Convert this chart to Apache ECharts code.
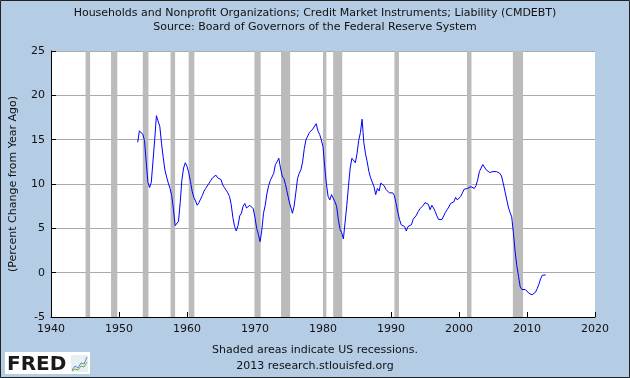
<!DOCTYPE html>
<html>
<head>
<meta charset="utf-8">
<script src="https://cdn.jsdelivr.net/npm/echarts@6/dist/echarts.min.js"></script>
<style>
html,body{margin:0;padding:0;background:#B4CCE4;}
#chart{width:630px;height:378px;}
</style>
</head>
<body>
<div id="chart"></div>
<script>
// Quarterly percent change from year ago, first quarter 1952 Q4
const startYear = 1952.75;
const values1950s = [14.7, 16.0, 16.1, 15.6, 14.9, 12.5, 10.2, 9.6, 10.2, 12.6, 15.0, 17.7, 17.6, 16.5, 14.6, 13.0, 11.6, 10.8, 10.1, 9.5, 8.7, 7.2, 5.3, 5.2, 5.8, 7.9, 10.5, 11.8];
const values1960s = [12.4, 12.0, 11.3, 10.3, 9.2, 8.5, 8.1, 7.6, 7.9, 8.3, 8.7, 9.2, 9.5, 9.6, 10.1, 10.4, 10.7, 10.8, 11.0, 10.7, 10.5, 10.5, 9.9, 9.6, 9.4, 9.0, 8.6, 7.7, 6.2, 5.2, 4.7, 5.3, 6.4, 6.7, 7.5, 7.8, 7.3, 7.5, 7.6, 7.5];
const values1970s = [7.2, 6.2, 5.0, 4.3, 3.5, 4.8, 6.7, 7.6, 8.9, 9.8, 10.4, 10.6, 11.2, 12.2, 12.5, 12.9, 11.8, 10.9, 10.6, 9.9, 9.0, 8.1, 7.4, 6.7, 7.5, 9.0, 10.6, 11.2, 11.6, 12.5, 14.0, 15.0, 15.4, 15.8, 16.0, 16.2, 16.3, 16.8, 16.0, 15.6];
const values1980s = [15.0, 14.2, 12.0, 10.0, 8.6, 8.2, 8.8, 9.0, 8.0, 7.5, 6.0, 4.9, 4.5, 3.8, 5.7, 7.6, 9.8, 11.8, 12.9, 12.7, 12.4, 13.4, 14.9, 15.8, 17.3, 14.7, 13.4, 12.5, 11.4, 10.7, 10.8, 9.7, 8.8, 9.5, 9.2, 10.1, 10.3, 9.8, 9.4, 9.2];
const values1990s = [9.0, 9.1, 9.0, 8.7, 7.8, 6.8, 6.0, 5.4, 5.3, 5.2, 4.7, 5.2, 5.0, 5.4, 6.0, 6.1, 6.5, 6.9, 7.2, 7.4, 7.6, 7.9, 7.9, 7.7, 7.1, 7.6, 7.3, 6.9, 6.4, 6.0, 5.9, 6.0, 6.4, 6.8, 7.1, 7.4, 7.8, 7.9, 8.0, 8.5];
const values2000s = [8.2, 8.4, 8.6, 9.0, 9.4, 9.4, 9.5, 9.7, 9.7, 9.9, 9.5, 9.8, 10.5, 11.4, 11.8, 12.2, 12.1, 11.6, 11.4, 11.3, 11.3, 11.4, 11.4, 11.4, 11.2, 11.2, 10.9, 10.1, 9.2, 8.3, 7.4, 6.8, 6.3, 4.5, 2.4, 0.8, -0.4, -1.6, -1.9, -2.1];
const values2010s = [-1.9, -2.1, -2.3, -2.4, -2.5, -2.4, -2.2, -1.8, -1.3, -0.7, -0.3, -0.5, -0.25];
// Recessions (decimal years)
const recessionStarts = [1945.08, 1948.83, 1953.5, 1957.58, 1960.25, 1969.92, 1973.83, 1980.0, 1981.5, 1990.5, 2001.17, 2007.92];
const recessionEnds   = [1945.75, 1949.75, 1954.33, 1958.25, 1961.08, 1970.83, 1975.17, 1980.5, 1982.83, 1991.17, 2001.83, 2009.42];
const xTicks = [1940, 1950, 1960, 1970, 1980, 1990, 2000, 2010, 2020];
const yTicks = [-5, 0, 5, 10, 15, 20, 25];

const titleLine1 = 'Households and Nonprofit Organizations; Credit Market Instruments; Liability (CMDEBT)';
const titleLine2 = 'Source: Board of Governors of the Federal Reserve System';
const yName = '(Percent Change from Year Ago)';
const note1 = 'Shaded areas indicate US recessions.';
const note2 = '2013 research.stlouisfed.org';

const allValues = [].concat(values1950s, values1960s, values1970s, values1980s, values1990s, values2000s, values2010s);
const lineData = allValues.map((v, i) => [startYear + i * 0.25, v]);
const areas = recessionStarts.map((s, i) => [{xAxis: s}, {xAxis: recessionEnds[i]}]);

const FONT = 'DejaVu Sans';
const chart = echarts.init(document.getElementById('chart'), null, {renderer: 'canvas'});
chart.setOption({
  animation: false,
  backgroundColor: '#B4CCE4',
  textStyle: {fontFamily: FONT},
  grid: {left: 47, right: 35, top: 51, bottom: 61, containLabel: false, show: true, backgroundColor: '#FFFFFF', borderWidth: 0},
  xAxis: {
    type: 'value', min: xTicks[0], max: xTicks[xTicks.length - 1], interval: 10,
    axisLine: {show: true, onZero: false, lineStyle: {color: '#000', width: 1}},
    axisTick: {show: true, inside: true, length: 5, lineStyle: {color: '#000'}},
    axisLabel: {color: '#111', fontSize: 11, fontFamily: FONT, margin: 7, formatter: v => String(v)},
    splitLine: {show: false}
  },
  yAxis: {
    type: 'value', min: yTicks[0], max: yTicks[yTicks.length - 1], interval: 5,
    name: yName, nameLocation: 'middle', nameGap: 32,
    nameTextStyle: {color: '#111', fontSize: 11, fontFamily: FONT},
    axisLine: {show: true, onZero: false, lineStyle: {color: '#000', width: 1}},
    axisTick: {show: true, inside: true, length: 5, lineStyle: {color: '#000'}},
    axisLabel: {color: '#111', fontSize: 11, fontFamily: FONT, margin: 6},
    splitLine: {show: true, lineStyle: {color: '#AAAAAA', width: 1}}
  },
  title: {
    text: titleLine1, subtext: titleLine2, left: 'center', top: 3, itemGap: 3,
    textStyle: {fontSize: 11, fontWeight: 'normal', color: '#111', fontFamily: FONT},
    subtextStyle: {fontSize: 11, color: '#111', fontFamily: FONT}
  },
  series: [
    {
      type: 'line', data: [], silent: true, z: 1,
      markArea: {silent: true, itemStyle: {color: '#BBBBBB', opacity: 1}, data: areas}
    },
    {
      type: 'line', data: lineData, showSymbol: false, z: 5,
      lineStyle: {color: '#0000FF', width: 1}, itemStyle: {color: '#0000FF'}
    }
  ],
  graphic: [
    {type: 'text', left: 'center', top: 345, style: {text: note1, fontSize: 11, fill: '#111', fontFamily: FONT}},
    {type: 'text', left: 'center', top: 361, style: {text: note2, fontSize: 11, fill: '#111', fontFamily: FONT}},
    {type: 'rect', shape: {x: 5, y: 352, width: 85, height: 22}, style: {fill: '#FFFFFF'}},
    {type: 'text', x: 7, y: 355, style: {text: 'FRED', fontSize: 20, fontWeight: 'bold', fill: '#1a1a1a', fontFamily: FONT}},
    {type: 'rect', shape: {x: 71, y: 355, width: 17, height: 17}, style: {fill: '#E8EEF2'}},
    {type: 'polyline', shape: {points: [[72, 370], [75, 366], [78, 368], [81, 363], [84, 364], [87, 357]]}, style: {stroke: '#5588CC', lineWidth: 1, fill: null}},
    {type: 'polyline', shape: {points: [[72, 371], [75, 369], [78, 370], [81, 366], [84, 367], [87, 362]]}, style: {stroke: '#77AA44', lineWidth: 1, fill: null}},
    {type: 'rect', shape: {x: 0.5, y: 0.5, width: 629, height: 377}, style: {fill: null, stroke: '#222', lineWidth: 1}}
  ]
});
</script>
</body>
</html>
